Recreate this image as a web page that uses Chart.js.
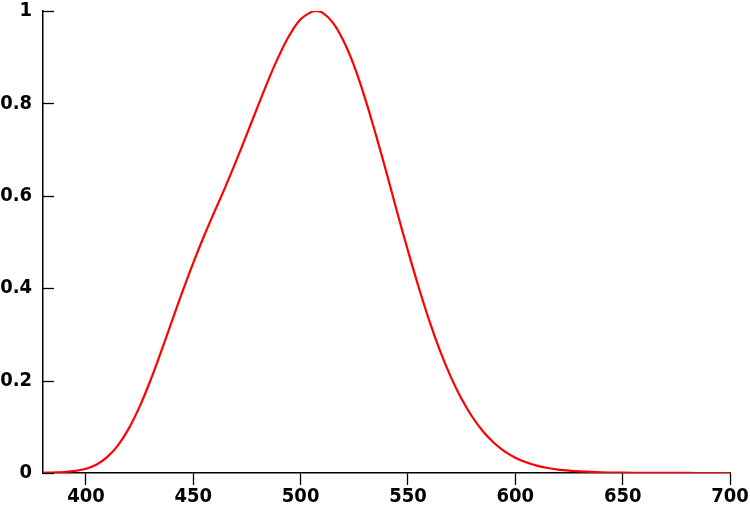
<!DOCTYPE html>
<html>
<head>
<meta charset="utf-8">
<script src="https://cdn.jsdelivr.net/npm/chart.js@4"></script>
<style>
html,body{margin:0;padding:0;background:#fff;}
#wrap{width:750px;height:505px;}
</style>
</head>
<body>
<div id="wrap"><canvas id="c" width="750" height="505"></canvas></div>
<script>
const wavelengths = [380,385,390,395,400,405,410,415,420,425,430,435,440,445,450,455,460,465,470,475,480,485,490,495,500,505,507,510,515,520,525,530,535,540,545,550,555,560,565,570,575,580,585,590,595,600,605,610,615,620,625,630,640,650,660,670,680,690,700];
const luminosity = [0.000589,0.001108,0.002209,0.00453,0.00929,0.01852,0.03484,0.0604,0.0966,0.1436,0.1998,0.2625,0.3281,0.3931,0.455,0.513,0.567,0.620,0.676,0.734,0.793,0.851,0.904,0.949,0.982,0.998,1.0,0.997,0.975,0.935,0.880,0.811,0.733,0.650,0.564,0.481,0.402,0.3288,0.2639,0.2076,0.1602,0.1212,0.0899,0.0655,0.0469,0.03315,0.02312,0.01593,0.01088,0.00737,0.00497,0.003335,0.001497,0.000677,0.000313,0.000148,0.0000715,0.0000353,0.0000178];
const xTicks = [400,450,500,550,600,650,700];
const yTicks = [0,0.2,0.4,0.6,0.8,1];

const points = wavelengths.map((w,i)=>({x:w,y:luminosity[i]}));
const FONT = {family:'"DejaVu Sans Condensed", "DejaVu Sans", sans-serif', size:20, weight:'bold'};

const innerTicks = {
  id:'innerTicks',
  afterDraw(chart){
    const ctx = chart.ctx, ys = chart.scales.y, left = chart.chartArea.left;
    ctx.save();
    ctx.strokeStyle = '#000';
    ctx.lineWidth = 1.3;
    yTicks.forEach(v=>{
      const p = Math.round(ys.getPixelForValue(v)) + 0.5;
      ctx.beginPath();
      ctx.moveTo(left, p);
      ctx.lineTo(left + 11, p);
      ctx.stroke();
    });
    ctx.restore();
  }
};

new Chart(document.getElementById('c'), {
  type:'line',
  data:{datasets:[{
    data:points,
    borderColor:'#ff0000',
    borderWidth:2.2,
    pointRadius:0,
    fill:false,
    tension:0.4
  }]},
  options:{
    responsive:false,
    animation:false,
    layout:{padding:{top:11,right:20,left:0,bottom:0}},
    plugins:{legend:{display:false},tooltip:{enabled:false}},
    scales:{
      x:{
        type:'linear', min:380, max:700,
        afterBuildTicks(s){ s.ticks = xTicks.map(v=>({value:v})); },
        afterFit(s){ s.height = 32; s.paddingLeft = 0; s.paddingRight = 0; },
        grid:{drawOnChartArea:false, drawTicks:true, tickLength:12, color:'#000', tickWidth:1.3},
        border:{display:true, color:'#000', width:1.5},
        ticks:{color:'#000', font:FONT, padding:0, maxRotation:0, autoSkip:false}
      },
      y:{
        type:'linear', min:0, max:1,
        afterBuildTicks(s){ s.ticks = yTicks.map(v=>({value:v})); },
        afterFit(s){ s.width = 43; s.paddingTop = 0; s.paddingBottom = 0; },
        grid:{drawOnChartArea:false, drawTicks:false},
        border:{display:true, color:'#000', width:1.5},
        ticks:{color:'#000', font:FONT, padding:11, callback:(v)=>String(v)}
      }
    }
  },
  plugins:[innerTicks]
});
</script>
</body>
</html>
